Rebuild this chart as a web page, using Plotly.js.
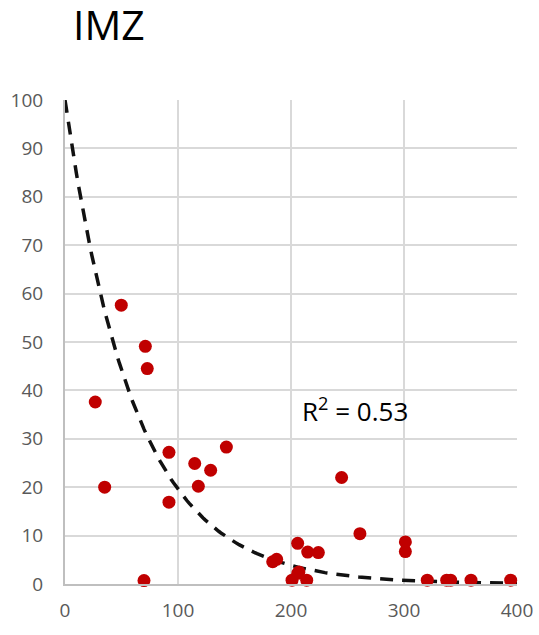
<!DOCTYPE html>
<html>
<head>
<meta charset="utf-8">
<script src="https://cdn.plot.ly/plotly-3.0.1.min.js"></script>
<style>html,body{margin:0;padding:0;background:#fff;}#chart{width:539px;height:635px;}</style>
</head>
<body>
<div id="chart"></div>
<script>
var xValues = [49.8, 71.1, 72.8, 26.8, 92.0, 114.8, 128.9, 142.8, 35.1, 118.0, 92.0, 69.9,
  244.8, 261.0, 205.9, 214.8, 224.2, 301.2, 301.2, 183.8, 187.3, 207.0, 206.0,
  200.9, 213.9, 320.6, 337.8, 341.3, 359.3, 394.4];
var yValues = [57.6, 49.1, 44.5, 37.6, 27.2, 24.9, 23.5, 28.3, 20.0, 20.2, 16.9, 0.7,
  22.0, 10.4, 8.4, 6.6, 6.5, 8.7, 6.7, 4.6, 5.1, 2.5, 2.2,
  0.8, 0.8, 0.8, 0.8, 0.8, 0.8, 0.8];
var trendA = 100;
var trendB = -0.0163;
var r2Label = "R<sup>2</sup> = 0.53";
var xTicks = [0, 100, 200, 300, 400];
var yTicks = [0, 10, 20, 30, 40, 50, 60, 70, 80, 90, 100];

var tx = [], ty = [];
for (var i = 0; i <= 400; i += 2) { tx.push(i); ty.push(trendA * Math.exp(trendB * i)); }

var data = [
  {x: tx, y: ty, mode: 'lines', type: 'scatter',
   line: {color: '#111111', width: 3.5, dash: '13px,9px'}, hoverinfo: 'skip'},
  {x: xValues, y: yValues, mode: 'markers', type: 'scatter',
   marker: {color: '#c00000', size: 13}, cliponaxis: false}
];
var layout = {
  width: 539, height: 635,
  margin: {l: 65, r: 22, t: 100, b: 51},
  paper_bgcolor: '#ffffff', plot_bgcolor: '#ffffff',
  showlegend: false,
  font: {family: '"Open Sans", sans-serif', color: '#595959', size: 19},
  title: {text: 'IMZ', xref: 'container', x: 73 / 539, xanchor: 'left',
    yref: 'container', y: 1 - 26 / 635, yanchor: 'middle', pad: {t: 0, b: 0, l: 0, r: 0},
    font: {size: 41, color: '#000000', family: '"Open Sans", sans-serif'}},
  xaxis: {range: [0, 400], tickvals: xTicks, showgrid: true, gridcolor: '#d9d9d9', gridwidth: 2,
    zeroline: false, showline: true, linecolor: '#bfbfbf', linewidth: 2, ticks: '',
    ticklabelstandoff: 8,
    tickfont: {size: 19, color: '#595959', family: '"Open Sans", sans-serif'}},
  yaxis: {range: [0, 100], tickvals: yTicks, showgrid: true, gridcolor: '#d9d9d9', gridwidth: 2,
    zeroline: false, showline: true, linecolor: '#bfbfbf', linewidth: 2, ticks: '',
    ticklabelstandoff: 16,
    tickfont: {size: 19, color: '#595959', family: '"Open Sans", sans-serif'}},
  annotations: [{x: 208, y: 35.9, xref: 'x', yref: 'y', text: r2Label, showarrow: false,
    xanchor: 'left', yanchor: 'middle',
    font: {size: 26, color: '#000000', family: '"Open Sans", sans-serif'}}]
};
Plotly.newPlot('chart', data, layout, {displayModeBar: false, staticPlot: true});
</script>
</body>
</html>
